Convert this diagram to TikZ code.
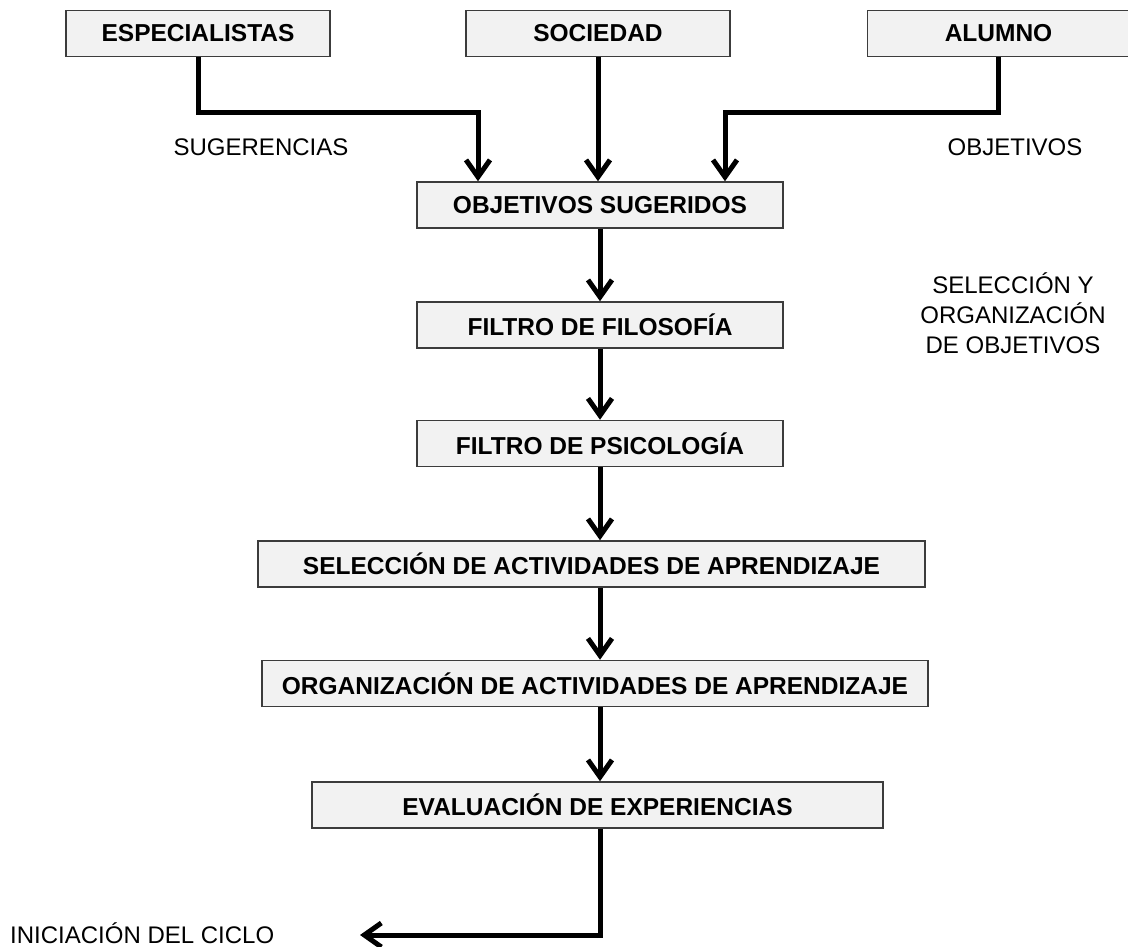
\documentclass[tikz,border=0pt]{standalone}
\usepackage{fontspec}
\setmainfont{Liberation Sans}
\usetikzlibrary{arrows.meta}
\definecolor{boxfill}{HTML}{F2F2F2}
\definecolor{boxline}{HTML}{3C3C3C}
\begin{document}
\begin{tikzpicture}[x=1pt,y=-1pt,
  box/.style={draw=boxline, fill=boxfill, line width=1.5pt, minimum height=46pt,
              inner sep=0pt, font=\fontsize{24.5}{28}\selectfont\bfseries},
  lbl/.style={font=\fontsize{24}{30}\selectfont, inner sep=0pt, align=center},
  link/.style={line width=5pt, line join=miter,
               -{Straight Barb[length=17pt,width=24pt]}}]
\useasboundingbox (0,0) rectangle (1128,947);

% sources
\node[box, minimum width=264pt] (esp) at (198,33.5)   {ESPECIALISTAS};
\node[box, minimum width=264pt] (soc) at (598,33.5)   {SOCIEDAD};
\node[box, minimum width=262pt] (alu) at (998.5,33.5) {ALUMNO};

% main chain
\node[box, minimum width=366pt] (obj) at (600,205)    {OBJETIVOS SUGERIDOS};
\node[box, minimum width=366pt] (fil) at (600,325)    {FILTRO DE FILOSOFÍA};
\node[box, minimum width=366pt] (psi) at (600,443.5)  {FILTRO DE PSICOLOGÍA};
\node[box, minimum width=667pt] (sel) at (591.5,564)  {SELECCIÓN DE ACTIVIDADES DE APRENDIZAJE};
\node[box, minimum width=666pt] (org) at (595,683.5)  {ORGANIZACIÓN DE ACTIVIDADES DE APRENDIZAJE};
\node[box, minimum width=571pt] (eva) at (597.5,805)  {EVALUACIÓN DE EXPERIENCIAS};

% labels
\node[lbl] (sug) at (261,147) {SUGERENCIAS};
\node[lbl] (obt) at (1015,147) {OBJETIVOS};
\node[lbl] (seo) at (1013,313) {SELECCIÓN Y\\ORGANIZACIÓN\\DE OBJETIVOS};
\node[lbl, anchor=west] (ini) at (10,933) {INICIACIÓN DEL CICLO};

% bend points
\coordinate (e1) at (478,113);
\coordinate (a1) at (725,113);
\coordinate (ret) at (360,935);

% connectors
\draw[link] (esp.south) |- (e1) -- (e1 |- obj.north);
\draw[link] (soc.south) -- (soc.south |- obj.north);
\draw[link] (alu.south) |- (a1) -- (a1 |- obj.north);
\draw[link] (obj.south) -- (fil.north);
\draw[link] (fil.south) -- (psi.north);
\draw[link] (psi.south) -- (psi.south |- sel.north);
\draw[link] (psi.south |- sel.south) -- (psi.south |- org.north);
\draw[link] (psi.south |- org.south) -- (psi.south |- eva.north);
\draw[link] (psi.south |- eva.south) |- (ret);
\end{tikzpicture}
\end{document}
